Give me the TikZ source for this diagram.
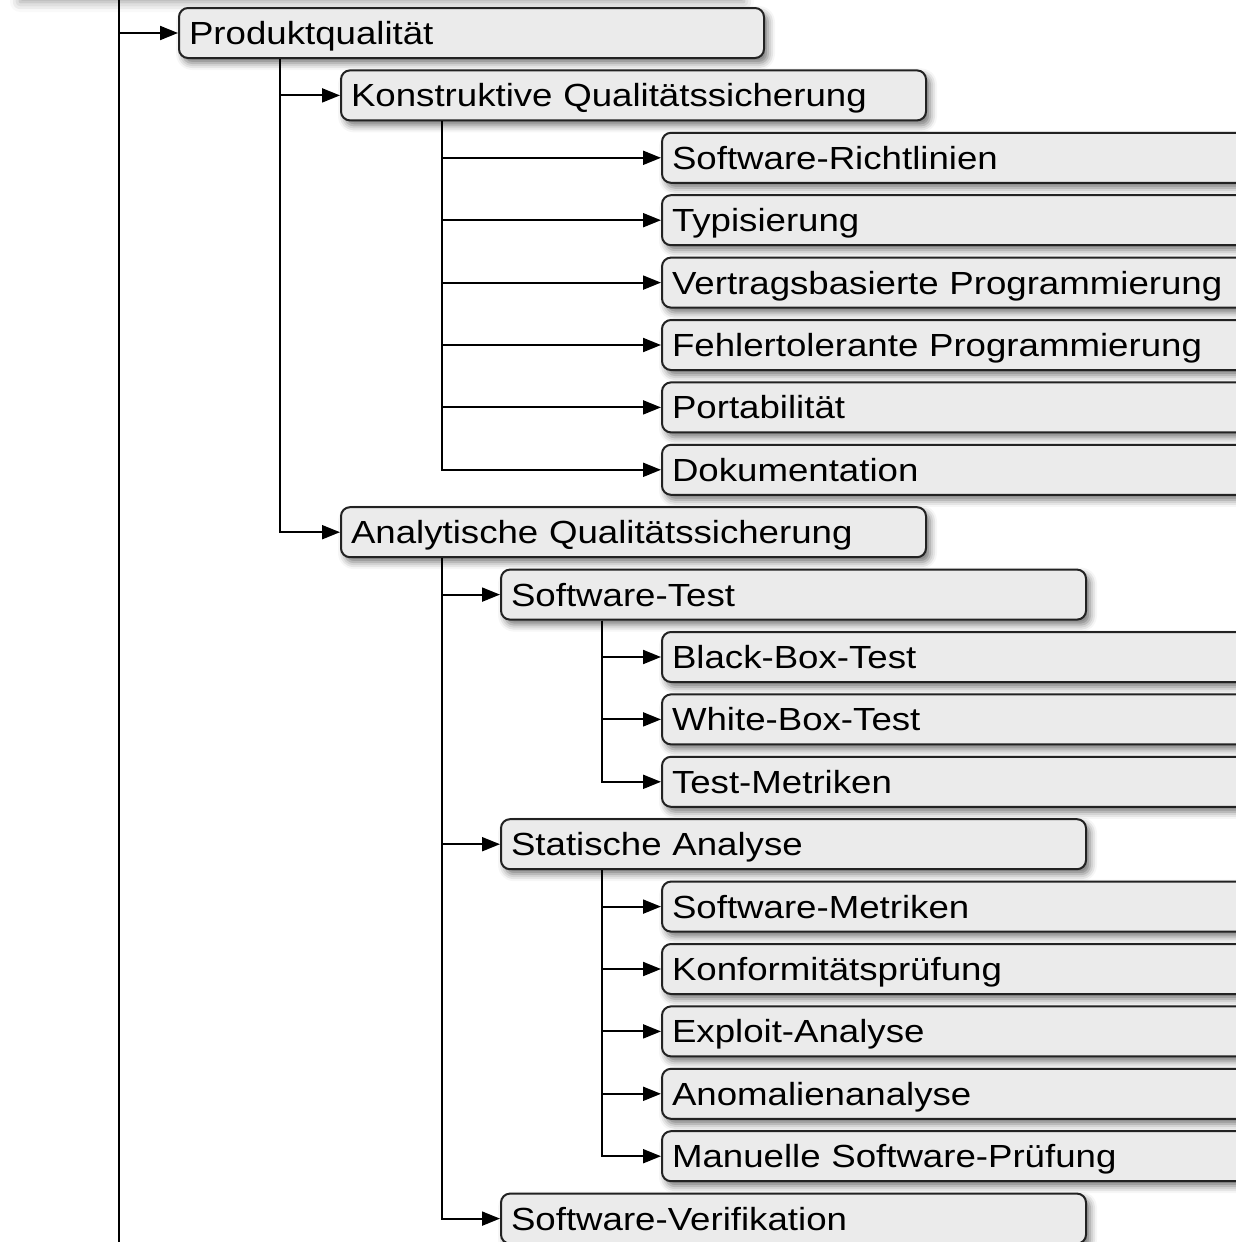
\documentclass[tikz,border=0pt]{standalone}
\usepackage{fontspec}
\setmainfont[FakeStretch=1.145]{Liberation Sans}
\usetikzlibrary{arrows.meta,shadows.blur}
\definecolor{boxfill}{HTML}{EBEBEB}
\definecolor{boxline}{HTML}{222222}
\tikzset{
  box/.style={draw=boxline, line width=1pt, fill=boxfill, rounded corners=4.5pt,
    minimum width=292.5pt, minimum height=25pt, text width=282.5pt, inner xsep=5pt, inner ysep=0pt,
    align=left, anchor=west, text height=12.6pt, text depth=1.2pt,
    font=\fontsize{16}{18}\selectfont,
    blur shadow={shadow xshift=2pt, shadow yshift=-2.5pt, shadow blur radius=3.5pt, shadow opacity=55}},
  conn/.style={line width=1pt, draw=black},
  arr/.style={conn, -{Triangle[length=9pt,width=7pt]}}
}
\begin{document}
\begin{tikzpicture}[x=0.5pt,y=-0.5pt]
\useasboundingbox (0,0) rectangle (1236,1242);
\clip (0,0) rectangle (1236,1242);
% shadow of the clipped parent box above
\path[blur shadow={shadow xshift=2pt, shadow yshift=-3pt, shadow blur radius=5pt, shadow opacity=40}] (16,-60) rectangle (740,-4);
% nodes
\node[box] (prod) at (178,33) {Produktqualität};
\node[box] (konst) at (340,95.4) {Konstruktive Qualitätssicherung};
\node[box] (rl) at (661,157.8) {Software-Richtlinien};
\node[box] (typ) at (661,220.2) {Typisierung};
\node[box] (vbp) at (661,282.6) {Vertragsbasierte Programmierung};
\node[box] (ftp) at (661,345) {Fehlertolerante Programmierung};
\node[box] (port) at (661,407.4) {Portabilität};
\node[box] (doku) at (661,469.8) {Dokumentation};
\node[box] (anal) at (340,532.2) {Analytische Qualitätssicherung};
\node[box] (test) at (500,594.6) {Software-Test};
\node[box] (bbt) at (661,657) {Black-Box-Test};
\node[box] (wbt) at (661,719.4) {White-Box-Test};
\node[box] (tm) at (661,781.8) {Test-Metriken};
\node[box] (stat) at (500,844.2) {Statische Analyse};
\node[box] (sm) at (661,906.6) {Software-Metriken};
\node[box] (konf) at (661,969) {Konformitätsprüfung};
\node[box] (expl) at (661,1031.4) {Exploit-Analyse};
\node[box] (anom) at (661,1093.8) {Anomalienanalyse};
\node[box] (man) at (661,1156.2) {Manuelle Software-Prüfung};
\node[box] (verif) at (500,1218.6) {Software-Verifikation};
% root connector
\coordinate (rtop) at (119,0);
\coordinate (rbot) at (119,1242);
\draw[conn] (rtop) -- (rbot);
\draw[arr] (119,33) -- (prod.west);
% connectors
\foreach \p/\c in {prod/konst, prod/anal,
  konst/rl, konst/typ, konst/vbp, konst/ftp, konst/port, konst/doku,
  anal/test, anal/stat, anal/verif,
  test/bbt, test/wbt, test/tm,
  stat/sm, stat/konf, stat/expl, stat/anom, stat/man}
  \draw[arr] ([xshift=51pt]\p.south west) |- (\c.west);
\end{tikzpicture}
\end{document}
